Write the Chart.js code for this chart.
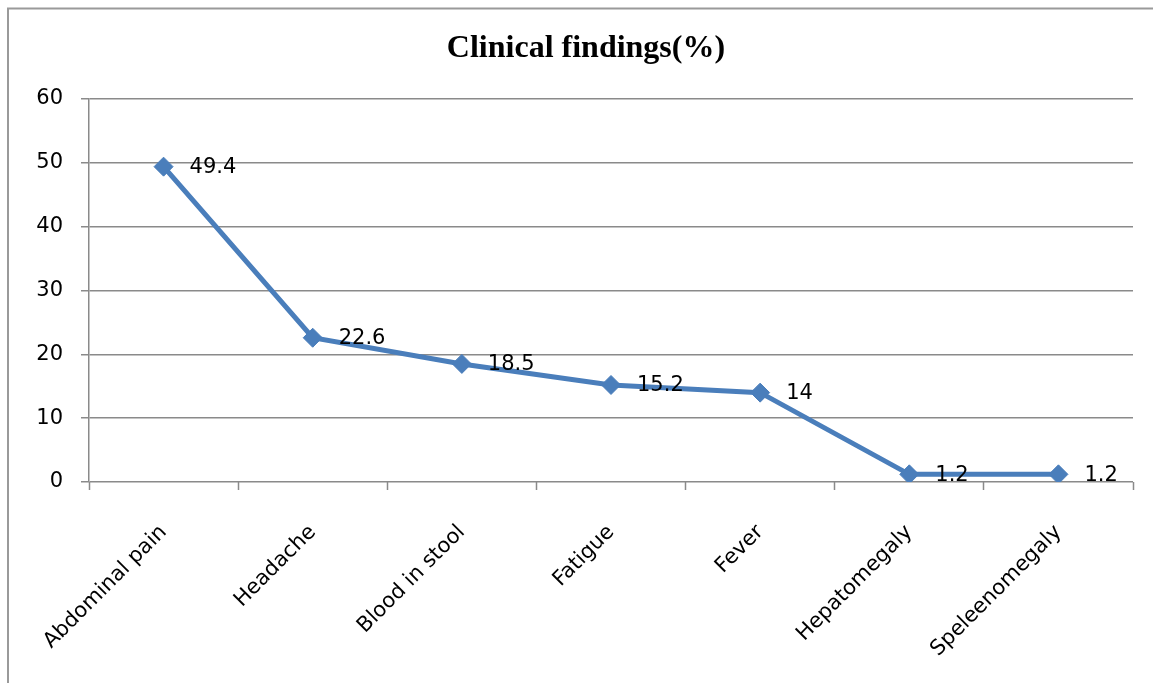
<!DOCTYPE html>
<html>
<head>
<meta charset="utf-8">
<script src="https://cdn.jsdelivr.net/npm/chart.js@4"></script>
<style>
  html, body { margin: 0; padding: 0; background: #fff; }
  canvas { display: block; }
</style>
</head>
<body>
<canvas id="c" width="1153" height="683"></canvas>
<script>
const categories = ['Abdominal pain', 'Headache', 'Blood in stool', 'Fatigue', 'Fever', 'Hepatomegaly', 'Speleenomegaly'];
const findings = [49.4, 22.6, 18.5, 15.2, 14, 1.2, 1.2];
const yTicks = [0, 10, 20, 30, 40, 50, 60];
const titleText = 'Clinical findings(%)';

const BLUE = '#4a7ebb';
const GRID = '#8a8a8a';
const FONT = 'DejaVu Sans';

// White background plus the frame lines on the top and left edges
const framePlugin = {
  id: 'frame',
  beforeDraw(chart) {
    const ctx = chart.ctx;
    ctx.save();
    ctx.fillStyle = '#fff';
    ctx.fillRect(0, 0, chart.width, chart.height);
    ctx.strokeStyle = '#9a9a9a';
    ctx.lineWidth = 2;
    ctx.beginPath();
    ctx.moveTo(8, chart.height);
    ctx.lineTo(8, 8.5);
    ctx.lineTo(chart.width, 8.5);
    ctx.stroke();
    ctx.restore();
  }
};

// Bold serif heading above the plot
const headingPlugin = {
  id: 'heading',
  afterDraw(chart) {
    const ctx = chart.ctx;
    ctx.save();
    ctx.font = 'bold 32px "Liberation Serif", "Times New Roman", serif';
    ctx.fillStyle = '#000';
    ctx.textAlign = 'center';
    ctx.textBaseline = 'alphabetic';
    ctx.fillText(titleText, 586, 57);
    ctx.restore();
  }
};

// Value labels to the right of each marker
const valueLabelPlugin = {
  id: 'valueLabels',
  afterDatasetsDraw(chart) {
    const ctx = chart.ctx;
    const meta = chart.getDatasetMeta(0);
    const data = chart.data.datasets[0].data;
    ctx.save();
    ctx.font = '21px "' + FONT + '"';
    ctx.fillStyle = '#000';
    ctx.textAlign = 'left';
    ctx.textBaseline = 'middle';
    meta.data.forEach((pt, i) => {
      ctx.fillText(String(data[i]), pt.x + 26, pt.y + 1);
    });
    ctx.restore();
  }
};

new Chart(document.getElementById('c'), {
  type: 'line',
  data: {
    labels: categories,
    datasets: [{
      data: findings,
      borderColor: BLUE,
      backgroundColor: BLUE,
      borderWidth: 5,
      pointStyle: 'rectRot',
      pointRadius: 9.5,
      pointHoverRadius: 9.5,
      pointBackgroundColor: BLUE,
      pointBorderColor: BLUE,
      pointBorderWidth: 1,
      tension: 0,
      fill: false
    }]
  },
  options: {
    responsive: false,
    animation: false,
    events: [],
    layout: { padding: { top: 99, left: 0, right: 20, bottom: 0 } },
    plugins: {
      legend: { display: false },
      title: { display: false },
      tooltip: { enabled: false }
    },
    scales: {
      x: {
        type: 'category',
        offset: true,
        afterFit(scale) { scale.height = 201; },
        border: { display: false },
        grid: {
          display: true,
          offset: true,
          drawOnChartArea: false,
          drawTicks: true,
          tickLength: 8,
          tickWidth: 1.5,
          color: GRID
        },
        ticks: {
          color: '#000',
          font: { family: FONT, size: 21 },
          minRotation: 45,
          maxRotation: 45,
          padding: 30,
          autoSkip: false
        }
      },
      y: {
        min: 0,
        max: 60,
        afterFit(scale) { scale.width = 89; },
        afterBuildTicks(scale) { scale.ticks = yTicks.map(v => ({ value: v })); },
        border: { display: true, color: GRID, width: 1.5 },
        grid: {
          color: GRID,
          lineWidth: 1.5,
          drawTicks: true,
          tickLength: 8
        },
        ticks: {
          color: '#000',
          font: { family: FONT, size: 21 },
          padding: 18
        }
      }
    }
  },
  plugins: [framePlugin, headingPlugin, valueLabelPlugin]
});
</script>
</body>
</html>
